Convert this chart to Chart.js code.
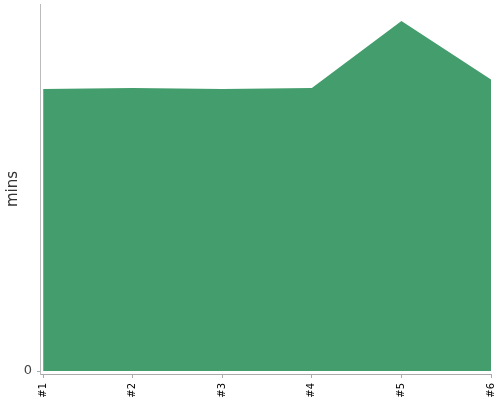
<!DOCTYPE html>
<html>
<head>
<meta charset="utf-8">
<script src="https://cdn.jsdelivr.net/npm/chart.js@4/dist/chart.umd.min.js"></script>
<style>
  html, body { margin: 0; padding: 0; background: #fff; }
  #wrap { width: 500px; height: 400px; }
</style>
</head>
<body>
<div id="wrap"><canvas id="chart"></canvas></div>
<script>
// --- chart data ---
const runLabels = ["#1", "#2", "#3", "#4", "#5", "#6"];
const runMins = [28.2, 28.3, 28.2, 28.3, 35.0, 29.15];
const yTickValues = [0];

const ctx = document.getElementById('chart').getContext('2d');
new Chart(ctx, {
    type: 'line',
    data: {
        datasets: [{
            label: 'mins',
            data: runMins.map((v, i) => ({ x: i, y: v })),
            fill: 'origin',
            backgroundColor: '#449d6c',
            borderWidth: 0,
            pointRadius: 0,
            tension: 0
        }]
    },
    options: {
        responsive: true,
        maintainAspectRatio: false,
        animation: false,
        layout: { padding: { top: 4, right: 9, left: 0, bottom: 0 } },
        plugins: { legend: { display: false }, tooltip: { enabled: false } },
        scales: {
            x: {
                type: 'linear',
                min: -0.035,
                max: runLabels.length - 1,
                afterBuildTicks: scale => { scale.ticks = runLabels.map((_, i) => ({ value: i })); },
                afterFit: scale => {
                    scale.height = 26;
                    scale.paddingLeft = 0;
                    scale.paddingRight = 0;
                },
                ticks: {
                    autoSkip: false,
                    minRotation: 90,
                    maxRotation: 90,
                    padding: 5,
                    color: '#000',
                    font: { family: 'DejaVu Sans', size: 10 },
                    callback: v => runLabels[v] ?? ''
                },
                grid: { drawOnChartArea: false, drawTicks: true, tickLength: 4, color: '#aaa' },
                border: { color: '#aaa', width: 1 }
            },
            y: {
                min: -0.3,
                max: 36.7,
                afterBuildTicks: scale => { scale.ticks = yTickValues.map(v => ({ value: v })); },
                afterFit: scale => {
                    scale.width = 40;
                    scale.paddingTop = 0;
                    scale.paddingBottom = 0;
                },
                ticks: {
                    padding: 5,
                    color: '#444',
                    font: { family: 'DejaVu Sans', size: 13 }
                },
                grid: { drawOnChartArea: false, drawTicks: true, tickLength: 3, color: '#aaa' },
                border: { color: '#bbb', width: 1 },
                title: {
                    display: true,
                    text: 'mins',
                    color: '#333',
                    padding: { top: 4, bottom: 2 },
                    font: { family: 'DejaVu Sans', size: 15 }
                }
            }
        }
    }
});
</script>
</body>
</html>
